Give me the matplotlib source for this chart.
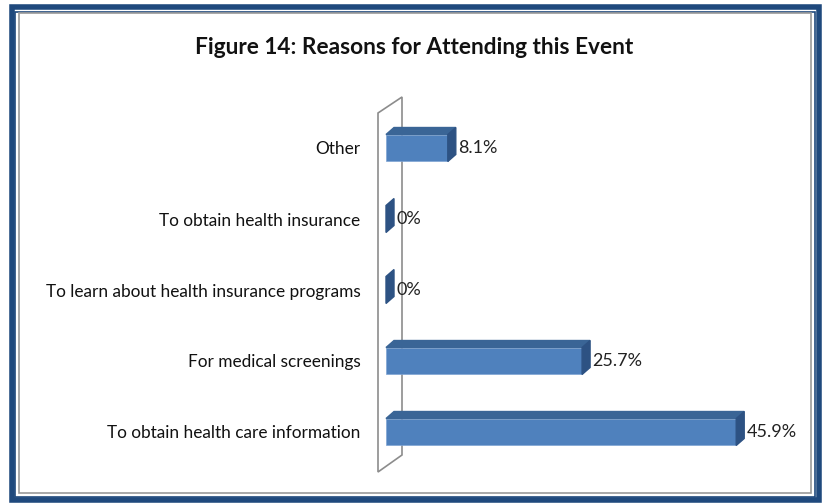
import matplotlib
matplotlib.use("Agg")
import matplotlib.pyplot as plt
from matplotlib.patches import Polygon, Rectangle

categories = ["To obtain health care information", "For medical screenings",
              "To learn about health insurance programs", "To obtain health insurance", "Other"]
values = [45.9, 25.7, 0, 0, 8.1]
labels = ["45.9%", "25.7%", "0%", "0%", "8.1%"]

W, H = 824, 503
plt.rcParams['font.family'] = ['Lato', 'DejaVu Sans']

fig = plt.figure(figsize=(W / 100, H / 100), dpi=100)

# axes: x=0 at 386px, 7.63 px per %, category spacing 71 px
x0_px, px_per = 386, 7.63
xmax = 50
ymin, ymax = -0.8, 4.9
y_bottom_px = H - 432 - (0 - ymin) * 71   # from bottom
ax = fig.add_axes([x0_px / W, y_bottom_px / H, xmax * px_per / W, (ymax - ymin) * 71 / H])
ax.set_xlim(0, xmax)
ax.set_ylim(ymin, ymax)
for s in ax.spines.values():
    s.set_visible(False)
ax.set_xticks([])
ax.set_yticks(range(len(categories)))
ax.set_yticklabels(categories, fontsize=12.4, color='#111111', va='center_baseline')
ax.tick_params(axis='y', length=0, pad=18.5)
ax.patch.set_alpha(0)

front, top, side = '#4F81BD', '#3A6596', '#2D5283'
bh = 0.38
dx = 8 / px_per
dy = 7 / 71.0

# wall outline
wx0, wx1 = (378 - x0_px) / px_per, (402 - x0_px) / px_per
wy = lambda p: (H - p - (H - 432)) / 71.0
wall = Polygon([(wx0, wy(472)), (wx0, wy(113)), (wx1, wy(97)), (wx1, wy(455))],
               closed=True, fill=False, edgecolor='#8C8C8C', lw=1.2, clip_on=False, zorder=1)
ax.add_patch(wall)

bars = ax.barh(range(len(categories)), values, height=bh, color=front,
               edgecolor='#7FA4D4', linewidth=0.5, zorder=3)
for i, (v, lab) in enumerate(zip(values, labels)):
    yb, yt = i - bh / 2, i + bh / 2
    if v > 0:
        ax.add_patch(Polygon([(0, yt), (dx, yt + dy), (v + dx, yt + dy), (v, yt)],
                             closed=True, color=top, zorder=3, clip_on=False))
    ax.add_patch(Polygon([(v, yb), (v, yt), (v + dx, yt + dy), (v + dx, yb + dy)],
                         closed=True, color=side, zorder=3, clip_on=False))
    ax.text(v + dx + 0.3, i, lab, va='center', ha='left', fontsize=13, color='#222222')

fig.text(0.5025, (H - 47) / H, "Figure 14: Reasons for Attending this Event",
         ha='center', va='center', fontsize=16.3, fontweight='bold', color='#111111')

# double border frame
def frame(x, y, w, h, color, lw):
    fig.patches.append(Rectangle((x / W, 1 - (y + h) / H), w / W, h / H, fill=False,
                                 edgecolor=color, lw=lw, transform=fig.transFigure))

frame(11.5, 7, 807, 493, '#1F497D', 4.0)
frame(15.5, 11.5, 799, 485, '#1F497D', 1.2)
frame(19, 13, 792, 480, '#9A9A9A', 1.2)

fig.savefig("out.png", dpi=100)
